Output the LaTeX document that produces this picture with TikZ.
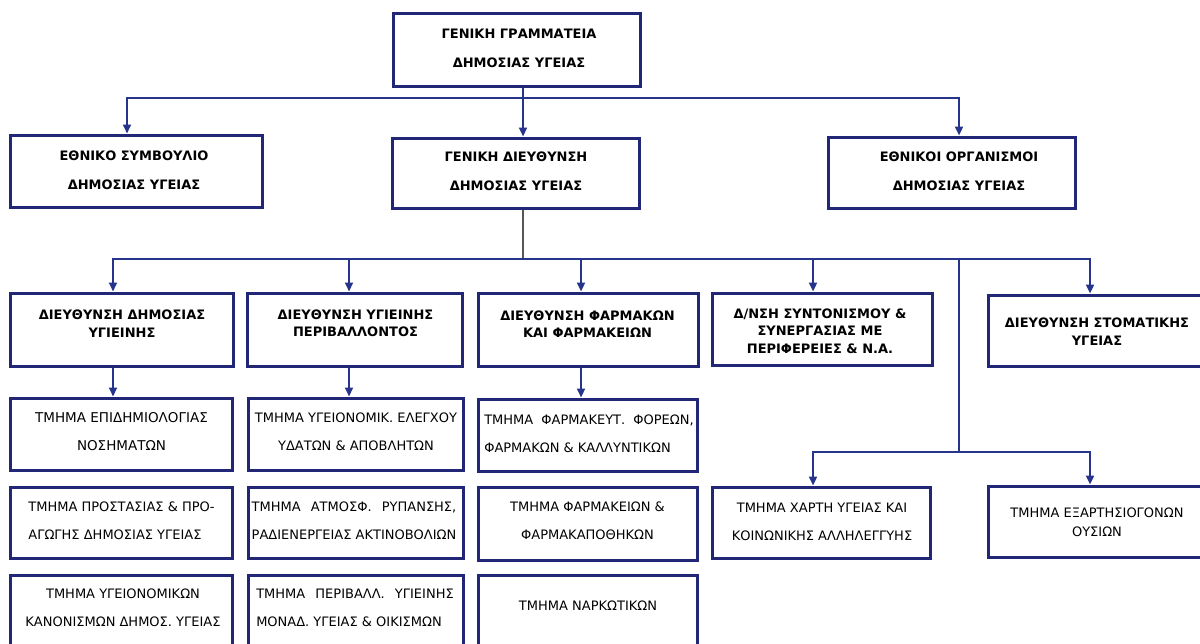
\documentclass[tikz,border=0pt]{standalone}
\usepackage{fontspec}
\setmainfont{DejaVu Sans}
\usetikzlibrary{arrows.meta}
\definecolor{navy}{RGB}{33,38,118}
\definecolor{linkblue}{RGB}{38,52,140}
\definecolor{stemgray}{RGB}{85,85,90}
\tikzset{
  unit/.style={draw=navy, line width=3pt, rectangle, inner sep=0pt},
  head/.style={font=\bfseries\fontsize{13}{29}\selectfont, align=center, inner sep=0pt},
  dept/.style={font=\bfseries\fontsize{13}{17.5}\selectfont, align=center, inner sep=0pt},
  sect/.style={font=\fontsize{13}{28}\selectfont, align=center, inner sep=0pt},
  link/.style={draw=linkblue, line width=2.2pt},
  arr/.style={link, -{Triangle[length=9pt,width=8pt]}},
  stem/.style={draw=stemgray, line width=1.3pt},
}
\begin{document}
\begin{tikzpicture}[x=1pt,y=-1pt]
\useasboundingbox (0,0) rectangle (1200,643);
\clip (0,0) rectangle (1200,643);

% general secretariat
\node[unit, minimum width=247, minimum height=73] (ggdy) at (516.5,49.5) {};
\node[head] (ggdy-t) at (519,48) {ΓΕΝΙΚΗ ΓΡΑΜΜΑΤΕΙΑ\\ΔΗΜΟΣΙΑΣ ΥΓΕΙΑΣ};

% second level
\node[unit, minimum width=252, minimum height=72] (esdy) at (136,171) {};
\node[head] (esdy-t) at (134,170.5) {ΕΘΝΙΚΟ ΣΥΜΒΟΥΛΙΟ\\ΔΗΜΟΣΙΑΣ ΥΓΕΙΑΣ};
\node[unit, minimum width=247, minimum height=70] (gddy) at (515.5,173) {};
\node[head] (gddy-t) at (516,171.5) {ΓΕΝΙΚΗ ΔΙΕΥΘΥΝΣΗ\\ΔΗΜΟΣΙΑΣ ΥΓΕΙΑΣ};
\node[unit, minimum width=247, minimum height=71] (eody) at (951.5,172.5) {};
\node[head] (eody-t) at (959,171) {ΕΘΝΙΚΟΙ ΟΡΓΑΝΙΣΜΟΙ\\ΔΗΜΟΣΙΑΣ ΥΓΕΙΑΣ};

\coordinate (s1) at (127,98);
\coordinate (s2) at (523,98);
\coordinate (s3) at (959,98);
\draw[arr] (ggdy.south -| s2) -- (gddy.north -| s2);
\draw[arr] (s2) -| (esdy.north -| s1);
\draw[arr] (s2) -| (eody.north -| s3);

% directorates
\node[unit, minimum width=223, minimum height=73] (dy1) at (121.5,329.5) {};
\node[dept] (dy1-t) at (122,323.5) {ΔΙΕΥΘΥΝΣΗ ΔΗΜΟΣΙΑΣ\\ΥΓΙΕΙΝΗΣ};
\node[unit, minimum width=215, minimum height=73] (dy2) at (354.5,329.5) {};
\node[dept] (dy2-t) at (355.5,323.5) {ΔΙΕΥΘΥΝΣΗ ΥΓΙΕΙΝΗΣ\\ΠΕΡΙΒΑΛΛΟΝΤΟΣ};
\node[unit, minimum width=220, minimum height=73] (dy3) at (588,329.5) {};
\node[dept] (dy3-t) at (587.5,324) {ΔΙΕΥΘΥΝΣΗ ΦΑΡΜΑΚΩΝ\\ΚΑΙ ΦΑΡΜΑΚΕΙΩΝ};
\node[unit, minimum width=220, minimum height=72] (dy4) at (822,329) {};
\node[dept] (dy4-t) at (820,331) {Δ/ΝΣΗ ΣΥΝΤΟΝΙΣΜΟΥ \&\\ΣΥΝΕΡΓΑΣΙΑΣ ΜΕ\\ΠΕΡΙΦΕΡΕΙΕΣ \& Ν.Α.};
\node[unit, minimum width=218, minimum height=71] (dy5) at (1097,330.5) {};
\node[dept] (dy5-t) at (1097,331.5) {ΔΙΕΥΘΥΝΣΗ ΣΤΟΜΑΤΙΚΗΣ\\ΥΓΕΙΑΣ};

\coordinate (h0) at (523,259);
\coordinate (h1) at (113,259);
\coordinate (h2) at (349,259);
\coordinate (h3) at (581,259);
\coordinate (h4) at (813,259);
\coordinate (h5) at (1090,259);
\coordinate (h6) at (959,259);
\draw[stem] (gddy.south -| h0) -- (h0);
\draw[arr] (h0) -| (dy1.north -| h1);
\draw[arr] (h0) -| (dy5.north -| h5);
\draw[arr] (h2) -- (dy2.north -| h2);
\draw[arr] (h3) -- (dy3.north -| h3);
\draw[arr] (h4) -- (dy4.north -| h4);

% sections
\node[unit, minimum width=222, minimum height=72] (t11) at (121,434) {};
\node[sect, font=\fontsize{13.5}{28}\selectfont] (t11-t) at (121.5,432) {ΤΜΗΜΑ ΕΠΙΔΗΜΙΟΛΟΓΙΑΣ\\ΝΟΣΗΜΑΤΩΝ};
\node[unit, minimum width=222, minimum height=71] (t12) at (121,522.5) {};
\node[sect, align=left] (t12-t) at (121.5,521) {ΤΜΗΜΑ ΠΡΟΣΤΑΣΙΑΣ \& ΠΡΟ-\\ΑΓΩΓΗΣ ΔΗΜΟΣΙΑΣ ΥΓΕΙΑΣ};
\node[unit, minimum width=222, minimum height=85] (t13) at (121,617.5) {};
\node[sect] (t13-t) at (123,607.5) {ΤΜΗΜΑ ΥΓΕΙΟΝΟΜΙΚΩΝ\\ΚΑΝΟΝΙΣΜΩΝ ΔΗΜΟΣ. ΥΓΕΙΑΣ};

\node[unit, minimum width=215, minimum height=72] (t21) at (355.5,434) {};
\node[sect] (t21-t) at (356,432) {ΤΜΗΜΑ ΥΓΕΙΟΝΟΜΙΚ. ΕΛΕΓΧΟΥ\\ΥΔΑΤΩΝ \& ΑΠΟΒΛΗΤΩΝ};
\node[unit, minimum width=215, minimum height=71] (t22) at (355.5,522.5) {};
\node[sect, align=left] (t22-t) at (354,521) {ΤΜΗΜΑ\hspace{6pt} ΑΤΜΟΣΦ.\hspace{6pt} ΡΥΠΑΝΣΗΣ,\\ΡΑΔΙΕΝΕΡΓΕΙΑΣ ΑΚΤΙΝΟΒΟΛΙΩΝ};
\node[unit, minimum width=215, minimum height=85] (t23) at (355.5,617.5) {};
\node[sect, align=left] (t23-t) at (355,607.5) {ΤΜΗΜΑ\hspace{6pt} ΠΕΡΙΒΑΛΛ.\hspace{6pt} ΥΓΙΕΙΝΗΣ\\ΜΟΝΑΔ. ΥΓΕΙΑΣ \& ΟΙΚΙΣΜΩΝ};

\node[unit, minimum width=219, minimum height=72] (t31) at (587.5,435) {};
\node[sect, align=left] (t31-t) at (589,433.5) {ΤΜΗΜΑ\hspace{4pt} ΦΑΡΜΑΚΕΥΤ.\hspace{4pt} ΦΟΡΕΩΝ,\\ΦΑΡΜΑΚΩΝ \& ΚΑΛΛΥΝΤΙΚΩΝ};
\node[unit, minimum width=219, minimum height=73] (t32) at (587.5,523.5) {};
\node[sect] (t32-t) at (587.5,521) {ΤΜΗΜΑ ΦΑΡΜΑΚΕΙΩΝ \&\\ΦΑΡΜΑΚΑΠΟΘΗΚΩΝ};
\node[unit, minimum width=219, minimum height=85] (t33) at (587.5,617.5) {};
\node[sect] (t33-t) at (588,606) {ΤΜΗΜΑ ΝΑΡΚΩΤΙΚΩΝ};

\draw[arr] (dy1.south -| h1) -- (t11.north -| h1);
\draw[arr] (dy2.south -| h2) -- (t21.north -| h2);
\draw[arr] (dy3.south -| h3) -- (t31.north -| h3);

% branch under the organisations
\node[unit, minimum width=218, minimum height=71] (xa) at (821,522.5) {};
\node[sect] (xa-t) at (822,521.5) {ΤΜΗΜΑ ΧΑΡΤΗ ΥΓΕΙΑΣ ΚΑΙ\\ΚΟΙΝΩΝΙΚΗΣ ΑΛΛΗΛΕΓΓΥΗΣ};
\node[unit, minimum width=218, minimum height=71] (xb) at (1097,521.5) {};
\node[sect, font=\fontsize{13}{19}\selectfont] (xb-t) at (1097,522.5) {ΤΜΗΜΑ ΕΞΑΡΤΗΣΙΟΓΟΝΩΝ\\ΟΥΣΙΩΝ};

\coordinate (k0) at (959,452);
\coordinate (k1) at (813,452);
\coordinate (k2) at (1090,452);
\draw[link] (h6) -- (k0);
\draw[arr] (k0) -| (xa.north -| k1);
\draw[arr] (k0) -| (xb.north -| k2);
\end{tikzpicture}
\end{document}
